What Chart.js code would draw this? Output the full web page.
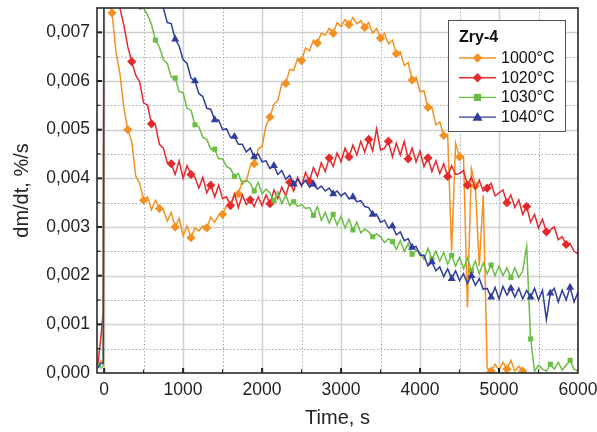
<!DOCTYPE html>
<html>
<head>
<meta charset="utf-8">
<script src="https://cdn.jsdelivr.net/npm/chart.js@4/dist/chart.umd.min.js"></script>
<style>
html,body{margin:0;padding:0;background:#fff;}
#wrap{width:597px;height:432px;position:relative;}
</style>
</head>
<body>
<div id="wrap"><canvas id="c" width="597" height="432"></canvas></div>
<script>
// Time, s
const time = [-80,-40,-10,0,
50,100,150,200,250,300,350,400,450,500,550,600,650,700,750,800,850,900,950,1000,
1050,1100,1150,1200,1250,1300,1350,1400,1450,1500,1550,1600,1650,1700,1750,1800,1850,1900,1950,2000,
2050,2100,2150,2200,2250,2300,2350,2400,2450,2500,2550,2600,2650,2700,2750,2800,2850,2900,2950,3000,
3050,3100,3150,3200,3250,3300,3350,3400,3450,3500,3550,3600,3650,3700,3750,3800,3850,3900,3950,4000,
4050,4100,4150,4200,4250,4300,4350,4400,4450,4500,4550,4600,4650,4700,4750,4800,4850,4900,4950,5000,
5050,5100,5150,5200,5250,5300,5350,5400,5450,5500,5550,5600,5650,5700,5750,5800,5850,5900,5950,6000];

// Axis tick values
const xTickValues = [0,500,1000,1500,2000,2500,3000,3500,4000,4500,5000,5500,6000];
const yTickValues = [0,0.0005,0.001,0.0015,0.002,0.0025,0.003,0.0035,0.004,0.0045,0.005,0.0055,0.006,0.0065,0.007,0.0075];

const seriesNames = ['1000°C','1020°C','1030°C','1040°C'];

// dm/dt, %/s
const rate1000 = [0.00015,0.00025,0.0002,0.009,
0.0077,0.0074,0.0066,0.00615,0.00545,0.005,0.00475,0.00405,0.0039,0.00355,0.00362,0.00335,0.00355,0.00338,0.00336,0.00312,0.0033,0.003,0.00318,0.00282,
0.00302,0.00278,0.00298,0.00292,0.00302,0.00298,0.0032,0.0031,0.00324,0.00326,0.00344,0.00342,0.00366,0.00368,0.00395,0.00394,0.00425,0.0043,0.0046,0.00466,
0.00508,0.00526,0.00552,0.0056,0.00594,0.00595,0.00624,0.00622,0.00646,0.00642,0.00668,0.00662,0.00684,0.00678,0.00698,0.00694,0.00708,0.00698,0.0072,0.00712,
0.00726,0.00716,0.0073,0.00718,0.00724,0.0071,0.0072,0.00698,0.00708,0.00688,0.00698,0.00676,0.00684,0.00656,0.0066,0.00632,0.00638,0.00602,0.00608,0.00578,
0.0058,0.00546,0.00546,0.0051,0.00516,0.00488,0.0049,0.0025,0.00472,0.00444,0.00446,0.00135,0.0042,0.00384,0.0022,0.00365,0.0001,0.00004,0.00018,0.00006,
0.00022,0.00008,0.00026,0.00004,0.00014,0.00004,null,null,null,null,null,null,null,null,null,null,null,null,null,null];

const rate1020 = [0.00015,0.00075,0.0013,0.012,
0.0105,0.0095,0.0083,0.0075,0.00715,0.0067,0.0064,0.00612,0.00598,0.00555,0.0055,0.00512,0.0051,0.0047,0.00462,0.00432,0.0043,0.00408,0.00436,0.004,
0.00426,0.00408,0.00402,0.0038,0.00402,0.0037,0.00386,0.00362,0.00386,0.00358,0.00362,0.00344,0.00368,0.0034,0.00366,0.00346,0.00356,0.00342,0.00362,0.00344,
0.00366,0.00348,0.00376,0.00358,0.00382,0.00364,0.00392,0.00374,0.00402,0.00384,0.00412,0.00394,0.00422,0.00404,0.00432,0.00414,0.00442,0.00424,0.00452,0.00434,
0.00462,0.00444,0.00468,0.00448,0.00476,0.00454,0.0048,0.00456,0.00502,0.00458,0.00462,0.00476,0.00444,0.00472,0.00448,0.00476,0.0044,0.00462,0.00434,0.00456,
0.00424,0.00442,0.00414,0.00436,0.0041,0.0043,0.00404,0.00426,0.00408,0.0041,0.00416,0.00386,0.00402,0.00378,0.00396,0.00374,0.0038,0.0039,0.00364,0.0037,
0.00376,0.0035,0.00366,0.0034,0.00356,0.00326,0.00342,0.0031,0.00326,0.00298,0.00316,0.0029,0.00294,0.003,0.00274,0.0028,0.00264,0.00266,0.0025,0.00245];

const rate1030 = [0.0002,0.0001,0.00015,0.012,
0.012,0.0115,0.011,0.0103,0.0097,0.009,0.0084,0.0079,0.00748,0.0075,0.00736,0.00716,0.00684,0.0067,0.00644,0.00636,0.00608,0.00606,0.00578,0.00576,
0.00544,0.0054,0.0051,0.00506,0.00484,0.0048,0.0046,0.0046,0.0044,0.0044,0.00424,0.0042,0.00404,0.0041,0.00388,0.00396,0.0039,0.00374,0.00392,0.00368,
0.00378,0.0037,0.00354,0.00372,0.00348,0.00366,0.00344,0.00352,0.00342,0.00346,0.00338,0.0034,0.00324,0.00342,0.00314,0.0033,0.00308,0.00326,0.00304,0.00322,
0.00298,0.00316,0.00294,0.0031,0.00288,0.00296,0.0029,0.0028,0.00286,0.0028,0.00268,0.00276,0.0027,0.00254,0.00272,0.0025,0.00266,0.00244,0.00252,0.00248,
0.00234,0.00256,0.00234,0.0025,0.0023,0.00248,0.00224,0.00242,0.0022,0.00238,0.00214,0.00236,0.0021,0.0023,0.00204,0.00226,0.00204,0.00222,0.002,0.0022,
0.002,0.00216,0.00196,0.00216,0.00196,0.0021,0.0026,0.0007,0.00004,0.00016,0.00008,0.00004,0.00018,0.00008,0.00022,0.00006,0.00016,0.00026,0.00008,0.00004];

const rate1040 = [0.0001,0.0002,0.0002,0.012,
0.012,0.0115,0.011,0.0105,0.01,0.0096,0.0092,0.0089,0.0086,0.0083,0.0081,0.0079,0.00775,0.00762,0.0075,0.0072,0.00718,0.00686,0.00672,0.00644,
0.00636,0.00606,0.006,0.00574,0.00568,0.00544,0.00542,0.0052,0.0052,0.005,0.00502,0.00484,0.00486,0.0047,0.0047,0.00454,0.00462,0.00444,0.0045,0.00434,
0.00436,0.0042,0.00426,0.00408,0.00416,0.00398,0.00406,0.00388,0.00398,0.00386,0.00396,0.00382,0.00388,0.00378,0.00384,0.00374,0.0038,0.00368,0.00374,0.00364,
0.0037,0.00358,0.00362,0.00352,0.00354,0.00342,0.0034,0.00326,0.00326,0.0031,0.00314,0.00298,0.00302,0.00284,0.0029,0.00272,0.00276,0.00258,0.0026,0.00242,
0.00242,0.0022,0.00228,0.0021,0.00218,0.00198,0.00214,0.00194,0.0021,0.0019,0.00204,0.00184,0.002,0.0018,0.00194,0.00172,0.00174,0.00156,0.00176,0.00152,
0.00178,0.0016,0.00174,0.00156,0.00174,0.00152,0.0017,0.00156,0.00174,0.0015,0.0017,0.0011,0.00164,0.00174,0.00146,0.0017,0.0015,0.00176,0.00146,0.00166];

const colors = ['#F39122','#E42A2D','#6CBD45','#2F3D9B'];
const shapes = ['rectRot','rectRot','rect','triangle'];
const markerStep = [200,250,250,250];
const markerStart = [100,350,400,900];
const allRates = [rate1000, rate1020, rate1030, rate1040];

function mkData(vals){ return time.map((t,i)=>({x:t,y:vals[i]})); }

const datasets = allRates.map((vals,k)=>({
  label: seriesNames[k],
  data: mkData(vals),
  borderColor: colors[k],
  backgroundColor: colors[k],
  borderWidth: 1.5,
  tension: 0,
  spanGaps: false,
  order: 4-k,
  pointStyle: shapes[k],
  pointBorderWidth: 0,
  pointBackgroundColor: colors[k],
  pointRadius: (ctx)=>{
    const t = time[ctx.dataIndex];
    if (t < markerStart[k]) return 0;
    return ((t - markerStart[k]) % markerStep[k] === 0) ? (shapes[k]==='rect'?3.6:4.6) : 0;
  },
  pointHoverRadius: 0
}));

function isMajorX(v){ return Math.abs(v % 1000) < 1e-6; }
function isMajorY(v){ return Math.abs(v*1000 - Math.round(v*1000)) < 1e-7; }

const gridPlugin = {
  id: 'gridPlugin',
  beforeDatasetsDraw(chart){
    const {ctx, chartArea:a, scales:{x,y}} = chart;
    ctx.save();
    x.ticks.forEach(tk=>{
      const v = tk.value; if (v <= x.min || v >= x.max) return;
      const px = Math.round(x.getPixelForValue(v))+0.5;
      ctx.beginPath();
      if (isMajorX(v)) { ctx.setLineDash([]); ctx.strokeStyle='#cfcfcf'; ctx.lineWidth=1.5; }
      else { ctx.setLineDash([1.5,2]); ctx.strokeStyle='#a9a9a9'; ctx.lineWidth=1; }
      ctx.moveTo(px,a.top); ctx.lineTo(px,a.bottom); ctx.stroke();
    });
    y.ticks.forEach(tk=>{
      const v = tk.value; if (v <= y.min + 1e-9 || v >= y.max - 1e-9) return;
      const py = Math.round(y.getPixelForValue(v))+0.5;
      ctx.beginPath();
      if (isMajorY(v)) { ctx.setLineDash([]); ctx.strokeStyle='#cfcfcf'; ctx.lineWidth=1.5; }
      else { ctx.setLineDash([1.5,2]); ctx.strokeStyle='#a9a9a9'; ctx.lineWidth=1; }
      ctx.moveTo(a.left,py); ctx.lineTo(a.right,py); ctx.stroke();
    });
    ctx.restore();
  },
  afterDatasetsDraw(chart){
    const {ctx, chartArea:a, scales:{x,y}} = chart;
    ctx.save();
    ctx.setLineDash([]);
    ctx.strokeStyle='#222';
    x.ticks.forEach(tk=>{
      const v = tk.value; if (v <= x.min || v >= x.max) return;
      const px = x.getPixelForValue(v);
      const maj = isMajorX(v);
      ctx.lineWidth = maj?2:1.2;
      ctx.beginPath(); ctx.moveTo(px,a.bottom); ctx.lineTo(px,a.bottom-(maj?5:3.5)); ctx.stroke();
    });
    y.ticks.forEach(tk=>{
      const v = tk.value; if (v <= y.min + 1e-9 || v >= y.max - 1e-9) return;
      const py = y.getPixelForValue(v);
      const maj = isMajorY(v);
      ctx.lineWidth = maj?2:1.2;
      ctx.beginPath(); ctx.moveTo(a.left,py); ctx.lineTo(a.left+(maj?5:3.5),py); ctx.stroke();
    });
    ctx.lineWidth = 1.6;
    ctx.strokeStyle = '#2a2a2a';
    ctx.strokeRect(a.left, a.top, a.right-a.left, a.bottom-a.top);
    ctx.restore();
  },
  afterDraw(chart){
    const ctx = chart.ctx;
    const bx=448, by=20, bw=117, bh=111;
    ctx.save();
    ctx.fillStyle='#fff';
    ctx.fillRect(bx,by,bw,bh);
    ctx.strokeStyle='#555'; ctx.lineWidth=1;
    ctx.strokeRect(bx+0.5,by+0.5,bw,bh);
    ctx.fillStyle='#111';
    ctx.textBaseline='middle';
    ctx.font='bold 16px "Liberation Sans", Arial, sans-serif';
    ctx.fillText('Zry-4', 459, 38);
    ctx.font='16px "Liberation Sans", Arial, sans-serif';
    chart.data.datasets.forEach((ds,k)=>{
      const yy = 58 + k*19.7;
      ctx.strokeStyle = colors[k]; ctx.lineWidth=1.4;
      ctx.beginPath(); ctx.moveTo(459,yy); ctx.lineTo(496,yy); ctx.stroke();
      ctx.fillStyle = colors[k];
      ctx.beginPath();
      const cx=477.5, r=4.8;
      if (shapes[k]==='rectRot'){ ctx.moveTo(cx,yy-r); ctx.lineTo(cx+r,yy); ctx.lineTo(cx,yy+r); ctx.lineTo(cx-r,yy); }
      else if (shapes[k]==='rect'){ ctx.rect(cx-3.6,yy-3.6,7.2,7.2); }
      else { ctx.moveTo(cx,yy-5.2); ctx.lineTo(cx+5,yy+3.6); ctx.lineTo(cx-5,yy+3.6); }
      ctx.closePath(); ctx.fill();
      ctx.fillStyle='#111';
      ctx.fillText(ds.label, 501, yy+0.5);
    });
    ctx.restore();
  }
};

const tickFont = {family:'"Liberation Sans", Arial, sans-serif', size:17.5};
new Chart(document.getElementById('c'), {
  type: 'line',
  data: { datasets },
  options: {
    responsive: false,
    animation: false,
    events: [],
    layout: { padding: { top: 8, right: 19, left: 0, bottom: 0 } },
    plugins: { legend: { display:false }, tooltip: { enabled:false } },
    scales: {
      x: {
        type: 'linear',
        min: -90, max: 6000,
        grid: { display:false, drawTicks:false, tickLength:0 },
        border: { display:false },
        afterBuildTicks: (s)=>{ s.ticks = xTickValues.map(v=>({value:v})); },
        ticks: {
          autoSkip:false, maxRotation:0, padding: 7,
          color:'#222', font: tickFont,
          callback: (v)=> isMajorX(v) ? String(v) : ''
        },
        title: { display:true, text:'Time, s', color:'#222',
          font:{family:'"Liberation Sans", Arial, sans-serif', size:20}, padding:{top:0,bottom:2} },
        afterFit: (s)=>{ s.height = 59; s.paddingLeft = 0; s.paddingRight = 0; }
      },
      y: {
        type: 'linear',
        min: 0, max: 0.0075,
        grid: { display:false, drawTicks:false, tickLength:0 },
        border: { display:false },
        afterBuildTicks: (s)=>{ s.ticks = yTickValues.map(v=>({value:v})); },
        ticks: {
          autoSkip:false, padding: 7,
          color:'#222', font: tickFont,
          callback: (v)=> isMajorY(v) ? v.toFixed(3).replace('.', ',') : ''
        },
        title: { display:true, text:'dm/dt, %/s', color:'#222',
          font:{family:'"Liberation Sans", Arial, sans-serif', size:20}, padding:{top:10,bottom:0} },
        afterFit: (s)=>{ s.width = 97; s.paddingTop = 0; s.paddingBottom = 0; }
      }
    }
  },
  plugins: [gridPlugin]
});
</script>
</body>
</html>
